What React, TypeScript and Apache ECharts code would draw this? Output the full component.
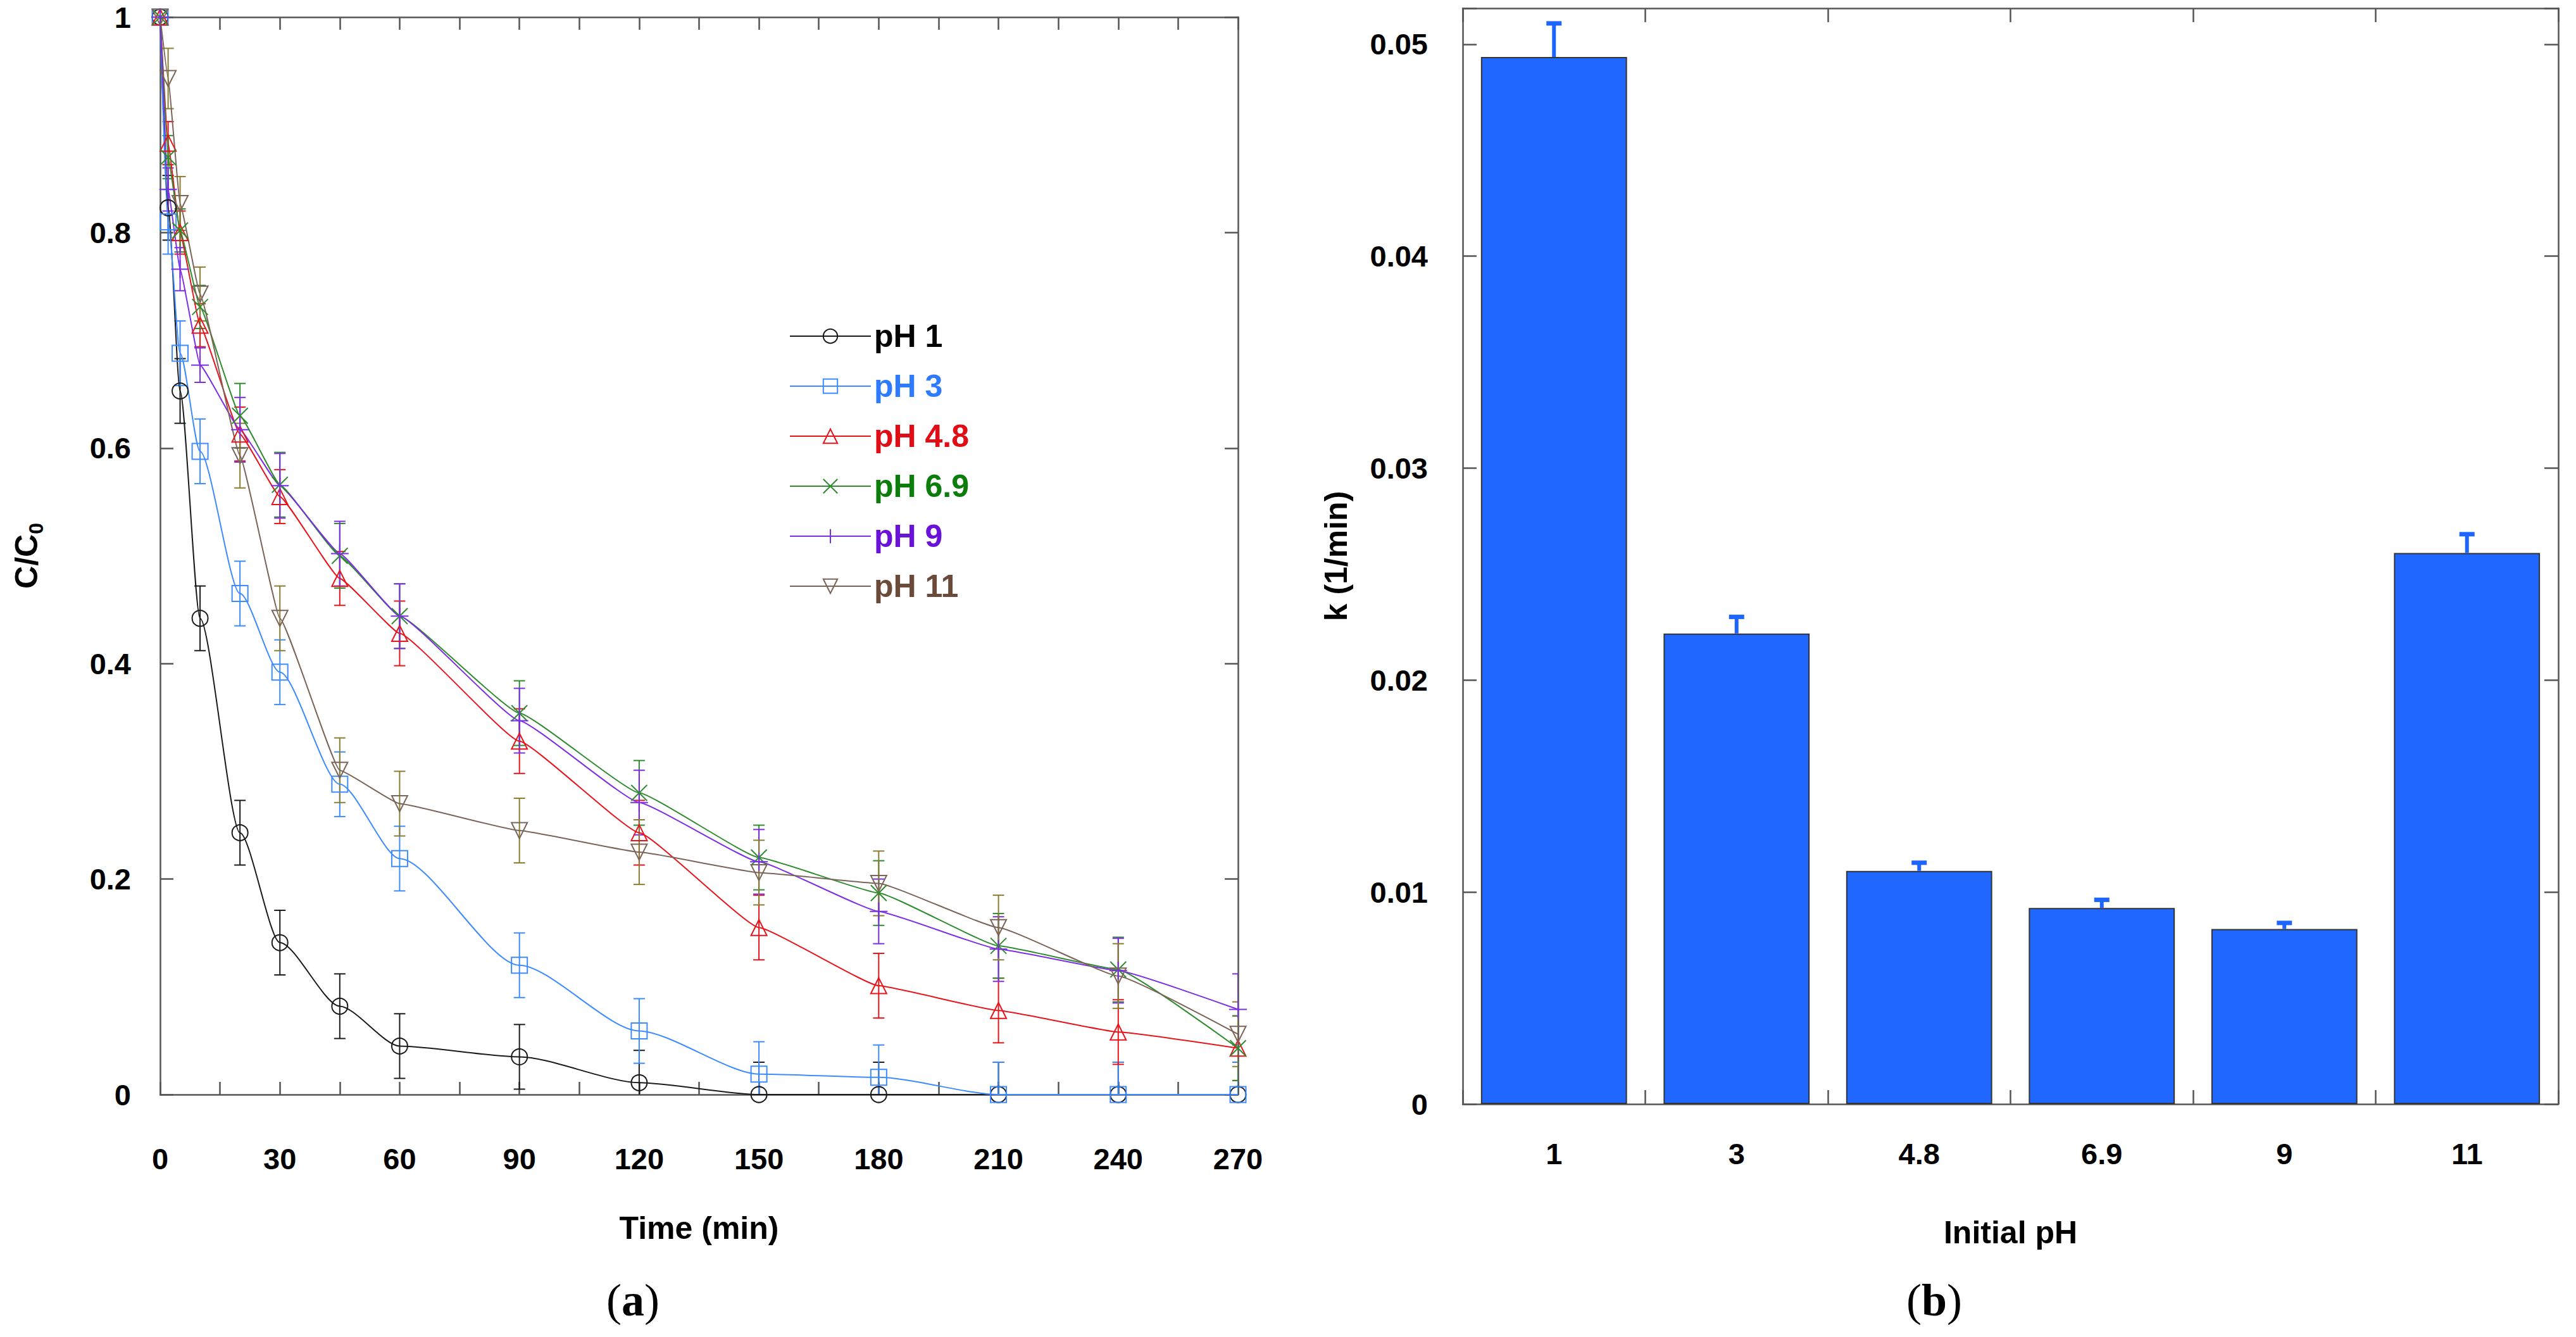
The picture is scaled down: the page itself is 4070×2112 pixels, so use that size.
import React, { useEffect, useRef } from "react";
import * as echarts from "echarts";

const FONT = "'Liberation Sans', Arial, sans-serif";
const SERIF = "'Liberation Serif', 'Times New Roman', serif";

// (a) C/C0 against time for each initial pH
const times = [0, 2, 5, 10, 20, 30, 45, 60, 90, 120, 150, 180, 210, 240, 270];
const ph1 = [1, 0.823, 0.653, 0.442, 0.243, 0.141, 0.082, 0.045, 0.035, 0.011, 0, 0, 0, 0, 0];
const ph3 = [1, 0.81, 0.688, 0.597, 0.465, 0.392, 0.288, 0.219, 0.12, 0.059, 0.019, 0.016, 0, 0, 0];
const ph48 = [1, 0.883, 0.8, 0.714, 0.613, 0.555, 0.479, 0.428, 0.328, 0.243, 0.155, 0.101, 0.078, 0.058, 0.043];
const ph69 = [1, 0.87, 0.802, 0.731, 0.63, 0.566, 0.5, 0.444, 0.354, 0.28, 0.22, 0.187, 0.138, 0.116, 0.043];
const ph9 = [1, 0.84, 0.766, 0.677, 0.617, 0.565, 0.502, 0.444, 0.347, 0.271, 0.216, 0.17, 0.135, 0.115, 0.079];
const ph11 = [1, 0.943, 0.827, 0.743, 0.593, 0.442, 0.301, 0.27, 0.245, 0.225, 0.206, 0.196, 0.155, 0.11, 0.056];

// error bars (±)
const err1 = [0, 0.03, 0.03, 0.03, 0.03, 0.03, 0.03, 0.03, 0.03, 0.03, 0.03, 0.03, 0.03, 0.03, 0.03];
const err3 = [0, 0.03, 0.03, 0.03, 0.03, 0.03, 0.03, 0.03, 0.03, 0.03, 0.03, 0.03, 0.03, 0.03, 0.03];
const err48 = [0, 0.02, 0.02, 0.02, 0.025, 0.025, 0.025, 0.03, 0.03, 0.03, 0.03, 0.03, 0.03, 0.03, 0.03];
const err69 = [0, 0.02, 0.02, 0.02, 0.03, 0.03, 0.03, 0.03, 0.03, 0.03, 0.03, 0.03, 0.03, 0.03, 0.03];
const err9 = [0, 0.02, 0.02, 0.016, 0.03, 0.03, 0.03, 0.03, 0.03, 0.03, 0.03, 0.03, 0.03, 0.03, 0.033];
const err11 = [0, 0.028, 0.025, 0.025, 0.03, 0.03, 0.03, 0.03, 0.03, 0.03, 0.03, 0.03, 0.03, 0.03, 0.03];

const phNames = ["pH 1", "pH 3", "pH 4.8", "pH 6.9", "pH 9", "pH 11"];
const phValues = [ph1, ph3, ph48, ph69, ph9, ph11];
const phErrors = [err1, err3, err48, err69, err9, err11];

// (b) rate constant for each initial pH
const pHCats = ["1", "3", "4.8", "6.9", "9", "11"];
const kValues = [0.0494, 0.0222, 0.011, 0.00925, 0.00826, 0.026];
const kErrors = [0.0016, 0.0008, 0.0004, 0.0004, 0.0003, 0.0009];

// styles per series
const lineColors = ["#1a1a1a", "#3d8bff", "#e8141c", "#2e8b2e", "#7b2ee6", "#7a6458"];
const textColors = ["#000000", "#2f7bff", "#e00d14", "#0a7d0a", "#6a12d8", "#6b4a3a"];
const errColors = ["#1a1a1a", "#3d8bff", "#e8141c", "#2e8b2e", "#7b2ee6", "#8c7c32"];
const smoothing = [0.25, 0.25, 0.1, 0.1, 0.1, 0.1];
const symbols = [
  "circle",
  "rect",
  "triangle",
  "path://M0,0L10,10M10,0L0,10",
  "path://M5,0L5,10M0,5L10,5",
  "path://M0,0L10,0L5,9Z",
];

const AXIS = "#555";
const BAR = "#2067ff";

const App = () => {
  const ref = useRef(null);

  useEffect(() => {
    const chart: any = echarts.init(ref.current, null, { renderer: "svg" });

    const lineSeries = phNames.map((name, i) => ({
      name,
      type: "line",
      xAxisIndex: 0,
      yAxisIndex: 0,
      data: times.map((t, j) => [t, phValues[i][j]]),
      smooth: smoothing[i],
      smoothMonotone: "x",
      symbol: symbols[i],
      symbolSize: i === 4 ? 28 : 25,
      lineStyle: { color: lineColors[i], width: 2 },
      itemStyle: { color: "rgba(0,0,0,0)", borderColor: lineColors[i], borderWidth: 2 },
      z: 3,
    }));

    const errData = [];
    phNames.forEach((_, i) => {
      times.forEach((t, j) => {
        errData.push([t, phValues[i][j], phErrors[i][j], i]);
      });
    });

    const errSeries = {
      name: "errA",
      type: "custom",
      xAxisIndex: 0,
      yAxisIndex: 0,
      clip: true,
      z: 2,
      encode: { x: 0, y: 1 },
      data: errData,
      renderItem: (params, api) => {
        const x = api.value(0);
        const y = api.value(1);
        const e = api.value(2);
        const ci = api.value(3);
        if (!e) return { type: "group", children: [] };
        const top = api.coord([x, y + e]);
        const bot = api.coord([x, y - e]);
        const hw = 9;
        const style = { stroke: errColors[ci], lineWidth: 2, fill: null };
        return {
          type: "group",
          children: [
            { type: "line", shape: { x1: top[0], y1: top[1], x2: bot[0], y2: bot[1] }, style },
            { type: "line", shape: { x1: top[0] - hw, y1: top[1], x2: top[0] + hw, y2: top[1] }, style },
            { type: "line", shape: { x1: bot[0] - hw, y1: bot[1], x2: bot[0] + hw, y2: bot[1] }, style },
          ],
        };
      },
    };

    const barErrSeries = {
      name: "errB",
      type: "custom",
      xAxisIndex: 2,
      yAxisIndex: 2,
      z: 4,
      encode: { x: 0, y: 1 },
      data: kValues.map((v, i) => [i, v, kErrors[i]]),
      renderItem: (params, api) => {
        const i = api.value(0);
        const v = api.value(1);
        const e = api.value(2);
        const top = api.coord([i, v + e]);
        const base = api.coord([i, v]);
        return {
          type: "group",
          children: [
            {
              type: "line",
              shape: { x1: top[0], y1: top[1], x2: base[0], y2: base[1] },
              style: { stroke: "#1e64ff", lineWidth: 6 },
            },
            {
              type: "rect",
              shape: { x: top[0] - 12, y: top[1] - 3, width: 24, height: 7 },
              style: { fill: "#1e64ff" },
            },
          ],
        };
      },
    };

    const tickLabel = { fontSize: 47, fontWeight: "bold", color: "#000", fontFamily: FONT };
    const axisLine = { show: true, onZero: false, lineStyle: { color: AXIS, width: 2.5 } };
    const tick = (len) => ({ show: true, inside: true, length: len, lineStyle: { color: AXIS, width: 2.5 } });
    const nameStyle = { fontSize: 50, fontWeight: "bold", color: "#000", fontFamily: FONT };
    const panelLabel = (letter, left) => ({
      type: "text",
      left,
      top: 2018,
      style: {
        text: "{p|(}{b|" + letter + "}{p|)}",
        rich: {
          p: { fontSize: 72, fontFamily: SERIF, fill: "#000" },
          b: { fontSize: 72, fontFamily: SERIF, fontWeight: "bold", fill: "#000" },
        },
      },
    });

    chart.setOption({
      animation: false,
      backgroundColor: "#fff",
      grid: [
        { left: 253, top: 27, width: 1703, height: 1702 },
        { left: 2311, top: 13, width: 1731, height: 1731 },
      ],
      legend: {
        orient: "vertical",
        left: 1242,
        top: 501,
        itemWidth: 128,
        itemHeight: 28,
        itemGap: 29,
        textStyle: { fontSize: 50, fontWeight: "bold", fontFamily: FONT },
        data: phNames.map((n, i) => ({ name: n, textStyle: { color: textColors[i] } })),
      },
      xAxis: [
        {
          gridIndex: 0,
          type: "value",
          min: 0,
          max: 270,
          interval: 15,
          position: "bottom",
          axisLine,
          axisTick: tick(20),
          splitLine: { show: false },
          axisLabel: {
            ...tickLabel,
            margin: 78,
            formatter: (v) => (v % 30 === 0 ? String(v) : ""),
          },
          name: "Time (min)",
          nameLocation: "middle",
          nameGap: 186,
          nameTextStyle: nameStyle,
        },
        {
          gridIndex: 0,
          type: "value",
          min: 0,
          max: 270,
          interval: 15,
          position: "top",
          axisLine,
          axisTick: tick(20),
          splitLine: { show: false },
          axisLabel: { show: false },
        },
        {
          gridIndex: 1,
          type: "category",
          data: pHCats,
          position: "bottom",
          axisLine,
          axisTick: tick(22),
          axisLabel: { ...tickLabel, margin: 55 },
          name: "Initial pH",
          nameLocation: "middle",
          nameGap: 178,
          nameTextStyle: nameStyle,
        },
        {
          gridIndex: 1,
          type: "category",
          data: pHCats,
          position: "top",
          axisLine,
          axisTick: tick(22),
          axisLabel: { show: false },
        },
      ],
      yAxis: [
        {
          gridIndex: 0,
          type: "value",
          min: 0,
          max: 1,
          interval: 0.2,
          position: "left",
          axisLine,
          axisTick: tick(21),
          splitLine: { show: false },
          axisLabel: { ...tickLabel, margin: 46 },
          name: "{a|C/C}{b|0}",
          nameLocation: "middle",
          nameGap: 180,
          nameTextStyle: {
            rich: {
              a: { fontSize: 50, fontWeight: "bold", fontFamily: FONT, color: "#000" },
              b: { fontSize: 32, fontWeight: "bold", fontFamily: FONT, color: "#000", padding: [30, 0, 0, 0] },
            },
          },
        },
        {
          gridIndex: 0,
          type: "value",
          min: 0,
          max: 1,
          interval: 0.2,
          position: "right",
          axisLine,
          axisTick: tick(21),
          splitLine: { show: false },
          axisLabel: { show: false },
        },
        {
          gridIndex: 1,
          type: "value",
          min: 0,
          max: 0.0517,
          interval: 0.01,
          position: "left",
          axisLine,
          axisTick: tick(22),
          splitLine: { show: false },
          axisLabel: {
            ...tickLabel,
            margin: 55,
            formatter: (v) =>
              Math.abs(v * 100 - Math.round(v * 100)) < 1e-6 ? String(+v.toFixed(2)) : "",
          },
          name: "k (1/min)",
          nameLocation: "middle",
          nameGap: 175,
          nameTextStyle: nameStyle,
        },
        {
          gridIndex: 1,
          type: "value",
          min: 0,
          max: 0.0517,
          interval: 0.01,
          position: "right",
          axisLine,
          axisTick: tick(22),
          splitLine: { show: false },
          axisLabel: { show: false },
        },
      ],
      graphic: [panelLabel("a", 958), panelLabel("b", 3012)],
      series: [
        errSeries,
        ...lineSeries,
        {
          name: "k",
          type: "bar",
          xAxisIndex: 2,
          yAxisIndex: 2,
          data: kValues,
          barCategoryGap: "20%",
          itemStyle: { color: BAR, borderColor: "#333", borderWidth: 2 },
          z: 3,
        },
        barErrSeries,
      ],
    });

    return () => {
      chart.dispose();
    };
  }, []);

  return (
    <div
      ref={ref}
      style={{ position: "fixed", left: 0, top: 0, width: 4070, height: 2112, background: "#fff" }}
    ></div>
  );
};

export default App;
